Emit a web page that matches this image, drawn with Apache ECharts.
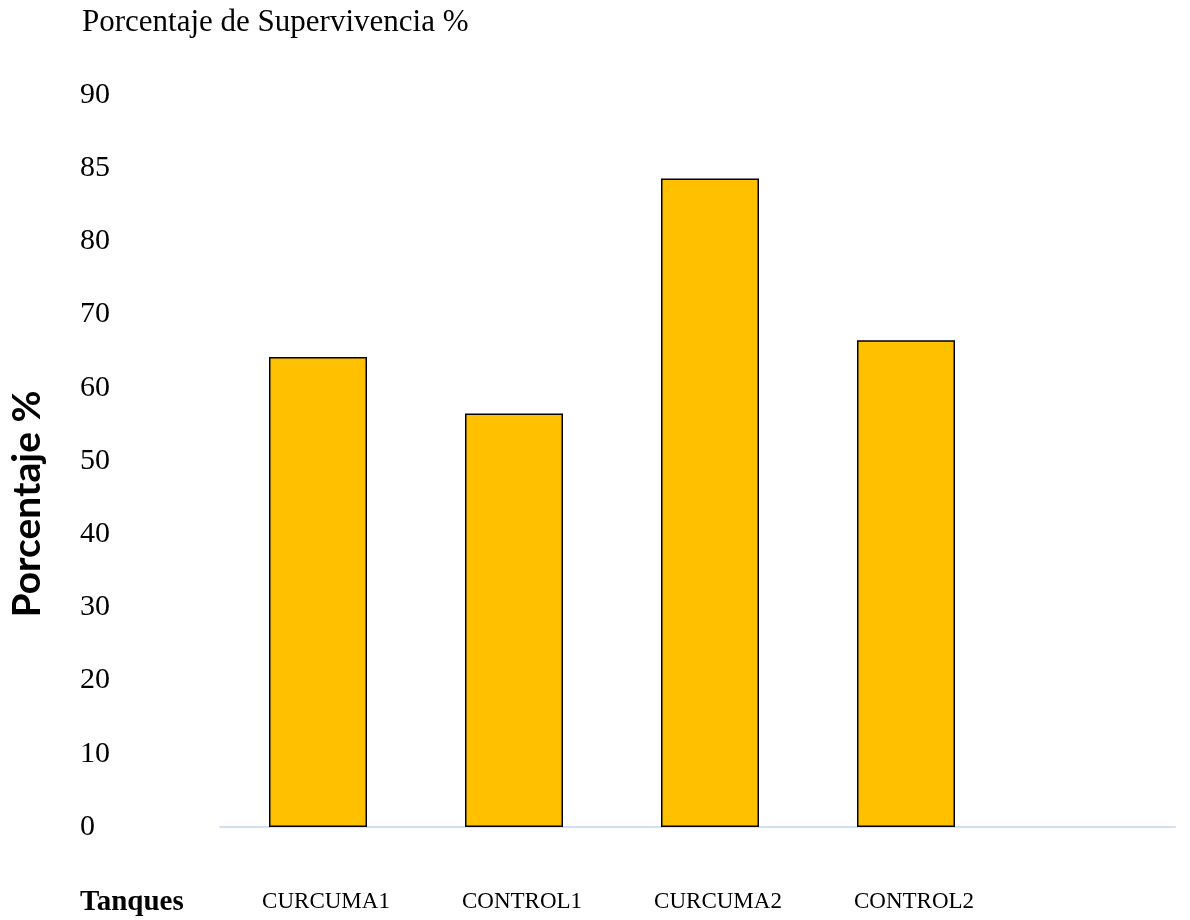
<!DOCTYPE html>
<html>
<head>
<meta charset="utf-8">
<title>Porcentaje de Supervivencia %</title>
<script src="https://cdn.jsdelivr.net/npm/echarts@6/dist/echarts.min.js"></script>
<style>
  html, body { margin: 0; padding: 0; background: #ffffff; }
  #chart { width: 1190px; height: 920px; }
</style>
</head>
<body>
<div id="chart"></div>
<script>
// Tanks and their survival percentage
const categories = ['CURCUMA1', 'CONTROL1', 'CURCUMA2', 'CONTROL2'];
const survival = [64.2, 56.5, 84.3, 66.5];

// Y axis ticks: equally spaced, with the labels as printed on the axis
const tickValues = [0, 10, 20, 30, 40, 50, 60, 70, 80, 85, 90];
const tickLabels = tickValues.map(String);

// Place a percentage on the evenly spaced tick scale (linear between neighbouring ticks)
function toTickScale(p) {
  for (let i = 0; i < tickValues.length - 1; i++) {
    const a = tickValues[i], b = tickValues[i + 1];
    if (p >= a && p <= b) return i + (p - a) / (b - a);
  }
  return tickValues.length - 1;
}

const serif = '"Liberation Serif", "Times New Roman", serif';

const chart = echarts.init(document.getElementById('chart'), null, { renderer: 'canvas' });

const option = {
  backgroundColor: '#ffffff',
  animation: false,
  title: {
    text: 'Porcentaje de Supervivencia %',
    left: 77,
    top: 2,
    textStyle: { fontFamily: serif, fontSize: 31, fontWeight: 'normal', color: '#000000' }
  },
  grid: [
    { left: 220, right: 186, top: 95, bottom: 93, containLabel: false },
    { left: 220, right: 15, top: 95, bottom: 93, containLabel: false }
  ],
  xAxis: [
    {
      type: 'category',
      gridIndex: 0,
      data: categories,
      axisLine: { show: false },
      axisTick: { show: false },
      axisLabel: {
        margin: 63,
        padding: [0, 0, 0, 16],
        fontFamily: serif,
        fontSize: 23,
        color: '#000000'
      }
    },
    {
      type: 'value',
      gridIndex: 1,
      min: 0,
      max: 1,
      axisLine: { show: true, lineStyle: { color: '#d3dff0', width: 2 } },
      axisTick: { show: false },
      axisLabel: { show: false },
      splitLine: { show: false }
    }
  ],
  yAxis: [
    {
      type: 'value',
      gridIndex: 0,
      min: 0,
      max: tickValues.length - 1,
      interval: 1,
      axisLine: { show: false },
      axisTick: { show: false },
      splitLine: { show: false },
      axisLabel: {
        align: 'left',
        margin: 140,
        fontFamily: serif,
        fontSize: 30,
        color: '#000000',
        formatter: function (v) { return tickLabels[Math.round(v)]; }
      }
    },
    {
      type: 'value',
      gridIndex: 1,
      min: 0,
      max: tickValues.length - 1,
      show: false
    }
  ],
  graphic: [
    {
      // y axis title, reading bottom to top
      type: 'text',
      x: 27,
      y: 504,
      rotation: Math.PI / 2,
      style: {
        text: 'Porcentaje %',
        font: 'bold 39px Lato, "Open Sans", sans-serif',
        fill: '#000000',
        align: 'center',
        verticalAlign: 'middle'
      }
    },
    {
      type: 'text',
      left: 80,
      top: 888,
      style: {
        text: 'Tanques',
        font: 'bold 29px ' + serif,
        fill: '#000000'
      }
    }
  ],
  series: [
    {
      type: 'bar',
      xAxisIndex: 0,
      yAxisIndex: 0,
      data: survival.map(toTickScale),
      barWidth: '50%',
      itemStyle: {
        color: '#FFC000',
        borderColor: '#000000',
        borderWidth: 1.5
      }
    }
  ]
};

chart.setOption(option);
</script>
</body>
</html>
